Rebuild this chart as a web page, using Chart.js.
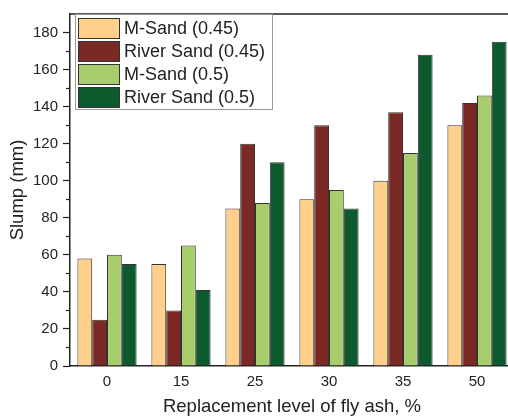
<!DOCTYPE html>
<html>
<head>
<meta charset="utf-8">
<script src="https://cdn.jsdelivr.net/npm/chart.js@4/dist/chart.umd.min.js"></script>
<style>
  html, body { margin: 0; padding: 0; background: #fff; overflow: hidden; }
  #wrap { width: 516px; height: 419px; }
</style>
</head>
<body>
<div id="wrap"><canvas id="c" width="516" height="419"></canvas></div>
<script>
const categories = ['0', '15', '25', '30', '35', '50'];
const seriesLabels = ['M-Sand (0.45)', 'River Sand (0.45)', 'M-Sand (0.5)', 'River Sand (0.5)'];
const mSand045 = [58, 55, 85, 90, 100, 130];
const riverSand045 = [25, 30, 120, 130, 137, 142];
const mSand05 = [60, 65, 88, 95, 115, 146];
const riverSand05 = [55, 41, 110, 85, 168, 175];
const seriesColors = ['#FFD08C', '#7B2925', '#A9CD6C', '#0D5A2F'];
const yMin = 0, yMax = 190, yMajorStep = 20, yMinorStep = 10;
const xTitle = 'Replacement level of fly ash, %';
const yTitle = 'Slump (mm)';

const FONT = "'Liberation Sans', Arial, Helvetica, sans-serif";
const INK = '#222';

const seriesValues = [mSand045, riverSand045, mSand05, riverSand05];

const extrasPlugin = {
  id: 'extras',
  afterDraw(chart) {
    const ctx = chart.ctx;
    const ca = chart.chartArea;
    const y = chart.scales.y;
    ctx.save();
    // top border
    ctx.strokeStyle = INK;
    ctx.lineWidth = 1.5;
    ctx.beginPath();
    ctx.moveTo(ca.left, ca.top);
    ctx.lineTo(ca.right, ca.top);
    ctx.stroke();
    // minor ticks
    ctx.lineWidth = 1.2;
    for (let v = yMin + yMinorStep; v < yMax; v += yMinorStep) {
      if (v % yMajorStep === 0) continue;
      const py = Math.round(y.getPixelForValue(v)) + 0.5;
      ctx.beginPath();
      ctx.moveTo(ca.left - 4, py);
      ctx.lineTo(ca.left, py);
      ctx.stroke();
    }
    // legend
    const lx = 75.5, ly = 14.5, lw = 197, lh = 95;
    ctx.strokeStyle = '#9a9a9a';
    ctx.lineWidth = 1;
    ctx.fillStyle = '#fff';
    ctx.fillRect(lx, ly, lw, lh);
    ctx.strokeRect(lx, ly, lw, lh);
    ctx.font = '18px ' + FONT;
    ctx.textBaseline = 'middle';
    ctx.textAlign = 'left';
    chart.data.datasets.forEach((ds, i) => {
      const sx = 78.5, sy = 18.5 + i * 23, sw = 41, sh = 20;
      ctx.fillStyle = ds.backgroundColor;
      ctx.fillRect(sx, sy, sw, sh);
      ctx.strokeStyle = '#333';
      ctx.strokeRect(sx, sy, sw, sh);
      ctx.fillStyle = INK;
      ctx.fillText(ds.label, 124, sy + sh / 2 + 1);
    });
    ctx.restore();
  }
};

new Chart(document.getElementById('c'), {
  type: 'bar',
  data: {
    labels: categories,
    datasets: seriesLabels.map((label, i) => ({
      label,
      data: seriesValues[i],
      backgroundColor: seriesColors[i],
      borderColor: '#333',
      borderWidth: 1,
      categoryPercentage: 0.8,
      barPercentage: 1.0
    }))
  },
  options: {
    responsive: false,
    devicePixelRatio: 1,
    animation: false,
    layout: { padding: { left: 0, top: 7, right: 2, bottom: 0 } },
    plugins: { legend: { display: false }, tooltip: { enabled: false } },
    scales: {
      x: {
        grid: { display: false, drawTicks: false },
        border: { display: true, color: INK, width: 1.5 },
        ticks: { color: INK, font: { family: FONT, size: 15 }, padding: 7 },
        title: { display: true, text: xTitle, color: INK, font: { family: FONT, size: 18.5 }, padding: { top: 0, bottom: 1 } },
        afterFit(scale) { scale.height = 53; }
      },
      y: {
        min: yMin,
        max: yMax,
        ticks: { stepSize: yMajorStep, color: INK, font: { family: FONT, size: 15 }, padding: 5 },
        afterBuildTicks(scale) { scale.ticks = scale.ticks.filter(t => t.value % yMajorStep === 0); },
        grid: { drawOnChartArea: false, drawTicks: true, tickLength: 7, tickColor: INK, tickWidth: 1.2 },
        border: { display: true, color: INK, width: 1.5 },
        title: { display: true, text: yTitle, color: INK, font: { family: FONT, size: 18.5 }, padding: { top: 7, bottom: 0 } },
        afterFit(scale) { scale.width = 70; }
      }
    }
  },
  plugins: [extrasPlugin]
});
</script>
</body>
</html>
